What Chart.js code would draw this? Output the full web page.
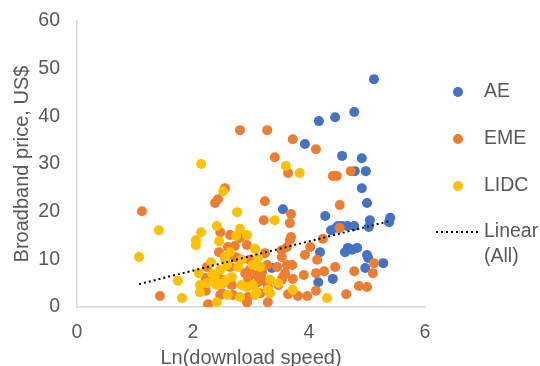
<!DOCTYPE html>
<html>
<head>
<meta charset="utf-8">
<script src="https://cdn.jsdelivr.net/npm/chart.js@4.4.1/dist/chart.umd.min.js"></script>
<style>
  html, body { margin: 0; padding: 0; background: #fff; overflow: hidden; }
  #wrap { width: 540px; height: 370px; position: relative; }
</style>
</head>
<body>
<div id="wrap"><canvas id="chart"></canvas></div>
<script>
// ===== Data =====
const seriesNames = ['AE', 'EME', 'LIDC'];
const trendName = ['Linear', '(All)'];

const aeX = [5.12, 4.78, 4.45, 4.17, 3.93, 4.57, 4.91, 4.79, 4.98, 4.91, 5.00, 3.55, 4.28, 4.38, 4.47, 4.50, 4.57, 4.66,
  4.78, 5.05, 5.03, 5.40, 5.38, 4.67, 4.83, 4.62, 4.74, 5.00, 5.02, 5.28, 4.97, 4.41, 4.16, 4.19, 3.36];
const aeY = [47.8, 40.9, 39.8, 39.0, 34.2, 31.7, 31.2, 28.5, 28.5, 24.9, 21.8, 20.5, 19.1, 16.1, 16.6, 17.0, 17.0, 17.0,
  17.0, 18.2, 16.8, 18.7, 17.8, 12.4, 12.4, 11.5, 12.0, 10.9, 10.3, 9.2, 8.2, 5.9, 5.2, 11.5, 8.2];

const emeX = [2.81, 3.28, 3.72, 4.12, 3.41, 3.64, 4.41, 4.48, 4.72, 2.55, 2.38, 2.43, 3.24, 4.53, 3.69, 3.22, 3.67, 1.12,
  4.53, 3.69, 4.24, 2.93, 3.62, 3.53, 4.02, 3.93, 4.14, 4.45, 4.78, 5.12, 5.10, 4.86, 5.00, 4.64, 4.12, 3.97, 3.81, 3.64,
  4.26, 4.12, 3.91, 3.72, 3.55, 3.45, 3.62, 3.53, 3.28, 3.19, 3.10, 2.98, 2.90, 2.95, 3.29, 2.93, 3.16, 3.28, 3.47,
  2.47, 2.64, 2.81, 3.24, 3.67, 2.55, 2.72, 2.64, 2.98, 3.19, 3.71, 3.59, 2.50, 2.67, 2.95, 3.12, 3.29, 3.53,
  2.47, 2.69, 2.95, 1.43, 2.26, 2.45, 2.60, 2.72, 2.60, 2.76, 2.50, 2.22, 2.41, 2.24, 2.22];
const emeY = [37.1, 37.1, 35.2, 33.1, 31.4, 28.1, 27.5, 27.5, 28.5, 24.9, 21.8, 22.6, 22.2, 21.4, 19.5, 18.2, 17.6, 20.1,
  16.6, 14.7, 14.3, 13.0, 12.6, 11.9, 12.6, 10.9, 9.9, 8.4, 7.5, 9.2, 7.1, 4.4, 4.2, 2.7, 3.4, 2.3, 2.3, 2.7,
  7.5, 7.1, 6.7, 5.9, 6.3, 8.4, 8.8, 10.5, 8.8, 5.7, 6.7, 9.9, 7.1, 4.6, 1.0, 1.0, 2.9, 5.0, 4.6,
  15.7, 15.1, 14.5, 11.3, 14.0, 10.3, 10.5, 8.4, 7.8, 7.3, 8.8, 7.1, 5.7, 4.6, 6.1, 5.2, 4.2, 5.7,
  2.5, 2.5, 2.1, 2.3, 0.6, 11.5, 12.6, 12.8, 8.6, 10.3, 2.9, 6.1, 6.5, 8.4, 3.4];

const lidcX = [2.14, 2.52, 2.76, 1.41, 2.14, 2.05, 2.05, 2.41, 2.45, 2.74, 2.81, 2.93, 1.07, 1.74, 1.81, 2.31, 2.10, 2.33,
  2.38, 2.12, 2.12, 2.24, 2.41, 2.57, 2.67, 2.78, 2.55, 2.64, 2.60, 2.81, 2.84, 2.59, 2.41, 3.60, 3.84, 3.41, 3.07,
  2.84, 3.03, 3.16, 3.12, 3.33, 3.47, 2.93, 3.07, 3.33, 3.72, 4.31, 2.47, 2.52, 3.03, 3.10, 3.29];
const lidcY = [30.0, 24.3, 19.9, 16.1, 15.7, 14.0, 13.0, 17.0, 13.8, 14.9, 16.4, 15.1, 10.5, 5.5, 1.9, 9.4, 7.1, 6.9,
  6.1, 4.6, 3.1, 5.0, 4.6, 5.7, 6.3, 8.4, 10.5, 11.5, 2.5, 2.1, 4.6, 8.8, 1.0, 29.6, 28.1, 18.2, 12.2,
  9.9, 8.8, 8.4, 10.3, 5.7, 5.0, 4.2, 2.5, 2.9, 3.6, 1.9, 7.8, 5.0, 4.6, 3.1, 3.6];

// linear trend (all points), end points
const trendX = [1.07, 5.38];
const trendY = [4.8, 18.0];

// ===== Style =====
const COLORS = { AE: '#4472C4', EME: '#ED7D31', LIDC: '#FFC000' };
const FONT = '"Liberation Sans", Arial, sans-serif';
const TEXT = '#595959';
const FS = 19.5;

function toPoints(xs, ys) {
  return xs.map((x, i) => ({ x, y: ys[i] }));
}

function scatterSet(name, xs, ys, order) {
  return {
    label: name,
    data: toPoints(xs, ys),
    backgroundColor: COLORS[name],
    borderColor: COLORS[name],
    pointRadius: 5,
    pointHoverRadius: 5,
    pointBorderWidth: 0,
    order
  };
}

// ===== Side legend (multi-line label, fixed spacing) =====
const sideLegend = {
  id: 'sideLegend',
  afterDraw(chart) {
    const ctx = chart.ctx;
    ctx.save();
    ctx.font = `${FS}px ${FONT}`;
    ctx.fillStyle = TEXT;
    ctx.textBaseline = 'middle';
    ctx.textAlign = 'left';

    seriesNames.forEach((name, i) => {
      const y = 92 + i * 47;
      ctx.beginPath();
      ctx.arc(458, y, 5, 0, Math.PI * 2);
      ctx.fillStyle = COLORS[name];
      ctx.fill();
      ctx.fillStyle = TEXT;
      ctx.fillText(name, 484, y);
    });

    // trend line entry
    ctx.beginPath();
    ctx.setLineDash([2, 3]);
    ctx.lineWidth = 2;
    ctx.strokeStyle = '#000';
    ctx.moveTo(436, 232);
    ctx.lineTo(478, 232);
    ctx.stroke();
    ctx.setLineDash([]);
    ctx.fillText(trendName[0], 484, 232);
    ctx.fillText(trendName[1], 484, 257);
    ctx.restore();
  }
};

// ===== Chart =====
const chart = new Chart(document.getElementById('chart'), {
  type: 'scatter',
  data: {
    datasets: [
      scatterSet('AE', aeX, aeY, 3),
      scatterSet('EME', emeX, emeY, 2),
      scatterSet('LIDC', lidcX, lidcY, 1),
      {
        label: 'Linear (All)',
        data: toPoints(trendX, trendY),
        showLine: true,
        borderColor: '#000',
        borderWidth: 2,
        borderDash: [2, 3],
        pointRadius: 0,
        order: 0
      }
    ]
  },
  options: {
    responsive: true,
    maintainAspectRatio: false,
    animation: false,
    devicePixelRatio: 1,
    layout: { padding: { top: 21, right: 115, left: 0, bottom: 0 } },
    plugins: {
      legend: { display: false },
      tooltip: { enabled: false }
    },
    scales: {
      x: {
        type: 'linear',
        min: 0,
        max: 6,
        ticks: { stepSize: 2, color: TEXT, font: { family: FONT, size: FS }, padding: 14 },
        grid: { display: false, drawTicks: false },
        border: { display: true, color: '#d9d9d9', width: 1.5 },
        title: {
          display: true,
          text: 'Ln(download speed)',
          color: TEXT,
          font: { family: FONT, size: 20 },
          padding: { top: 0, bottom: 0 }
        },
        afterFit: s => { s.height = 63; }
      },
      y: {
        min: 0,
        max: 60,
        // tick length (not drawn) keeps labels off the axis without adding top padding
        ticks: { stepSize: 10, color: TEXT, font: { family: FONT, size: FS }, padding: 2 },
        grid: { display: false, drawTicks: true, tickLength: 15 },
        border: { display: true, color: '#d9d9d9', width: 1.5 },
        title: {
          display: true,
          text: 'Broadband price, US$',
          color: TEXT,
          font: { family: FONT, size: 20 },
          padding: { top: 10, bottom: 0 }
        },
        afterFit: s => { s.width = 77; }
      }
    }
  },
  plugins: [sideLegend]
});
</script>
</body>
</html>
